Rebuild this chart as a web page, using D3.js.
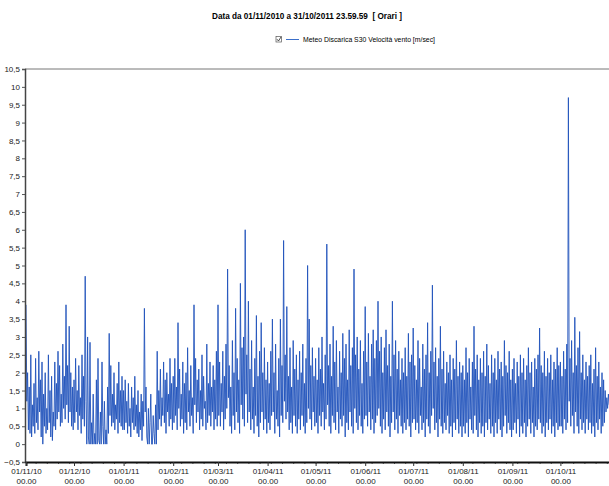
<!DOCTYPE html>
<html lang="it">
<head>
<meta charset="UTF-8">
<title>Velocità vento</title>
<script src="https://d3js.org/d3.v7.min.js"></script>
<style>
  body { margin: 0; background: #fff; }
  svg { display: block; font-family: "Liberation Sans", Arial, sans-serif; }
</style>
</head>
<body>
<svg width="609" height="486"></svg>
<script>
// valori, due campioni al giorno (00.00 e 12.00), m/sec
const nov10 = [3.9,1.2, 2.0,0.4, 1.6,0.3, 2.5,0.2, 1.1,0.5, 1.7,0.3, 2.4,0.6, 1.3,0.4, 2.6,0.9, 1.8,0.2,
  2.3,0.0, 1.4,0.5, 2.0,0.3, 1.0,0.4, 2.5,0.6, 1.5,0.2, 1.9,0.1, 0.9,0.5, 2.3,0.4, 1.7,0.7,
  2.6,0.9, 2.2,0.5, 1.4,0.6, 2.8,1.0, 1.9,0.7, 3.9,1.1, 2.2,0.6, 3.3,0.9, 2.0,0.5, 1.6,0.4];
const dec10 = [1.8,0.6, 2.4,0.9, 1.5,0.4, 2.2,0.8, 1.3,0.3, 2.5,0.7, 1.9,0.5, 4.7,1.2, 0.0,3.0, 0.2,0.0,
  2.85,0.0, 0.6,0.0, 1.4,0.0, 0.3,0.0, 1.8,0.0, 2.4,0.1, 0.0,0.9, 0.0,2.3, 0.5,0.0, 1.2,0.0,
  0.4,0.0, 1.6,0.3, 3.1,0.8, 2.2,0.5, 1.4,0.6, 2.0,0.4, 1.1,0.7, 1.7,0.3, 2.3,0.6, 1.5,0.5, 1.9,0.4];
const jan11 = [1.5,0.4, 1.8,0.6, 1.2,0.3, 1.7,0.5, 1.0,0.2, 1.6,0.6, 1.3,0.4, 1.9,0.5, 1.1,0.3, 1.5,0.2,
  0.9,0.4, 1.4,0.1, 1.2,0.5, 3.8,0.9, 1.6,0.2, 0.0,1.0, 0.0,0.6, 1.4,0.0, 0.0,0.8, 0.3,0.0,
  1.1,0.0, 2.6,0.4, 1.5,0.7, 2.1,0.5, 1.3,0.8, 2.3,0.6, 1.8,0.3, 2.0,0.9, 1.4,0.5, 2.4,0.7, 1.7,0.4];
const feb11 = [1.9,0.6, 2.4,0.8, 1.6,0.4, 3.4,1.0, 2.1,0.5, 1.4,0.7, 2.3,0.3, 1.7,0.6, 2.0,0.4, 2.7,0.9,
  1.5,0.5, 2.2,0.8, 1.3,0.3, 3.9,1.1, 2.4,0.6, 1.8,0.9, 2.1,0.4, 1.5,0.7, 2.5,0.5, 1.9,1.0,
  1.2,0.4, 2.8,0.6, 1.7,0.8, 2.3,0.5, 1.6,0.9, 2.2,0.4, 1.8,0.7, 2.6,0.5];
const mar11 = [3.9,0.8, 2.3,0.5, 1.7,0.9, 2.6,0.4, 1.9,0.7, 2.8,1.0, 4.9,1.3, 2.2,0.5, 1.6,0.3, 2.9,0.8,
  2.0,0.4, 3.8,0.9, 2.4,0.6, 1.8,0.3, 4.5,1.1, 2.7,0.7, 3.0,0.5, 6.0,1.4, 2.5,0.6, 4.0,0.9,
  2.1,0.4, 2.9,0.7, 1.6,0.3, 2.4,0.8, 3.6,0.5, 1.9,0.2, 2.6,0.6, 3.4,0.9, 2.0,0.4, 2.7,0.7, 1.8,0.3];
const apr11 = [2.3,0.6, 1.7,0.4, 2.6,0.8, 3.5,0.9, 2.0,0.3, 2.8,0.7, 1.5,0.5, 2.4,0.2, 3.5,0.8, 2.2,0.6,
  5.7,1.2, 2.5,0.7, 3.85,0.9, 1.9,0.4, 2.7,0.6, 1.6,0.3, 2.9,0.8, 2.1,0.5, 2.5,0.3, 1.8,0.7,
  2.6,0.4, 2.0,0.8, 2.8,0.5, 1.7,0.3, 2.4,0.6, 5.0,1.0, 3.5,0.7, 2.2,0.4, 2.7,0.9, 1.9,0.5];
const may11 = [2.4,0.6, 1.8,0.3, 2.7,0.8, 2.1,0.5, 3.0,0.9, 1.7,0.4, 2.5,0.7, 5.6,1.1, 2.2,0.5, 2.8,0.3,
  1.9,0.8, 3.3,0.6, 2.3,0.4, 2.9,0.9, 1.6,0.3, 2.6,0.7, 2.0,0.5, 3.1,0.8, 2.4,0.2, 2.8,0.6,
  1.8,0.4, 3.2,0.9, 2.2,0.5, 2.7,0.3, 4.9,1.0, 2.5,0.6, 3.0,0.4, 2.1,0.8, 2.9,0.5, 1.7,0.3, 2.6,0.7];
const jun11 = [3.85,0.8, 2.3,0.5, 3.1,0.9, 1.9,0.4, 2.8,0.7, 3.2,0.3, 2.4,0.6, 2.9,0.8, 4.0,1.0, 2.6,0.5,
  3.0,0.3, 2.0,0.7, 2.7,0.4, 3.2,0.9, 2.2,0.5, 2.8,0.2, 1.9,0.6, 4.0,0.9, 2.5,0.4, 2.9,0.7,
  2.1,0.3, 2.6,0.8, 1.8,0.5, 2.4,0.3, 2.0,0.6, 2.7,0.4, 1.9,0.7, 3.1,0.5, 2.3,0.2, 2.5,0.6];
const jul11 = [3.25,0.7, 2.2,0.4, 1.8,0.6, 2.9,0.3, 2.4,0.8, 1.6,0.4, 2.8,0.6, 2.1,0.2, 2.5,0.7, 3.4,0.5,
  2.0,0.3, 2.6,0.8, 4.45,1.0, 2.3,0.4, 2.7,0.6, 1.9,0.2, 2.4,0.7, 3.3,0.5, 2.1,0.3, 2.6,0.6,
  1.7,0.4, 2.3,0.8, 2.0,0.3, 2.5,0.5, 1.8,0.2, 2.4,0.6, 2.1,0.4, 2.9,0.7, 1.9,0.3, 2.3,0.5, 2.0,0.2];
const aug11 = [2.2,0.5, 1.8,0.3, 2.7,0.6, 2.0,0.2, 2.4,0.7, 1.6,0.4, 2.3,0.3, 3.3,0.8, 2.1,0.4, 2.5,0.2,
  1.8,0.6, 2.4,0.3, 2.0,0.5, 2.6,0.2, 1.9,0.6, 2.8,0.4, 2.2,0.7, 1.7,0.3, 2.5,0.5, 2.0,0.2,
  2.4,0.6, 1.8,0.3, 2.6,0.7, 2.1,0.4, 2.3,0.2, 1.9,0.5, 2.9,0.8, 2.2,0.3, 2.0,0.6, 2.6,0.4, 1.8,0.2];
const sep11 = [2.1,0.4, 2.4,0.6, 1.7,0.3, 2.3,0.7, 1.9,0.2, 2.5,0.5, 2.0,0.3, 2.4,0.6, 1.8,0.2, 2.2,0.5,
  2.7,0.7, 2.0,0.3, 2.3,0.6, 1.6,0.2, 2.4,0.5, 2.1,0.4, 2.5,0.7, 3.25,0.6, 2.2,0.3, 2.0,0.5,
  2.6,0.2, 1.9,0.6, 2.4,0.4, 2.0,0.7, 2.5,0.3, 1.8,0.5, 2.3,0.2, 2.1,0.6, 2.7,0.4, 2.2,0.5];
const oct11 = [2.3,0.5, 1.9,0.3, 2.6,0.7, 2.1,0.4, 2.8,0.6, 9.7,1.2, 2.4,0.5, 2.9,0.8, 2.0,0.3, 3.55,0.9,
  2.2,0.5, 2.7,0.3, 3.15,0.7, 2.0,0.4, 2.5,0.6, 1.8,0.3, 2.3,0.7, 1.9,0.4, 2.2,0.6, 2.5,0.3,
  1.7,0.5, 2.1,0.2, 2.7,0.6, 1.9,0.4, 2.3,0.7, 1.6,0.3, 2.0,0.5, 1.8,0.6, 1.5,0.9, 1.3,1.0, 1.4,1.1];

const months = [nov10, dec10, jan11, feb11, mar11, apr11, may11, jun11, jul11, aug11, sep11, oct11];
const yTicks = d3.range(-0.5, 10.51, 0.5);
const titleText = "Data da 01/11/2010 a 31/10/2011 23.59.59\u00a0\u00a0[ Orari ]";
const seriesName = "Meteo Discarica S30 Velocità vento [m/sec]";

const start = new Date(2010, 10, 1);
const end = new Date(2011, 10, 1);

// costruisco la serie: ogni mese parte dal giorno 1, passo di 12 ore
const data = [];
months.forEach((vals, m) => {
  const m0 = d3.timeMonth.offset(start, m);
  vals.forEach((v, i) => data.push({ t: d3.timeHour.offset(m0, i * 12), v: v }));
});

const svg = d3.select("svg");
const pLeft = 25, pRight = 609, pTop = 69, pBottom = 462;

const x = d3.scaleTime().domain([start, end]).range([pLeft + 1, 610]);
const y = d3.scaleLinear().domain([-0.5, 10.5]).range([pBottom, pTop]);

// titolo
svg.append("text")
  .attr("x", 307).attr("y", 19)
  .attr("text-anchor", "middle")
  .attr("font-size", 9.5).attr("font-weight", "bold")
  .attr("textLength", 190).attr("lengthAdjust", "spacingAndGlyphs")
  .text(titleText);

// legenda
const lg = svg.append("g");
lg.append("rect").attr("x", 276).attr("y", 36.5).attr("width", 5.5).attr("height", 5.5)
  .attr("fill", "#fff").attr("stroke", "#555").attr("stroke-width", 0.7);
lg.append("path").attr("d", "M277,39.2 L278.5,41 L281,37").attr("fill", "none")
  .attr("stroke", "#222").attr("stroke-width", 0.8);
lg.append("line").attr("x1", 286).attr("x2", 299).attr("y1", 39.5).attr("y2", 39.5)
  .attr("stroke", "#3b6fc9").attr("stroke-width", 1);
lg.append("text").attr("x", 303).attr("y", 42)
  .attr("font-size", 7)
  .attr("textLength", 132).attr("lengthAdjust", "spacingAndGlyphs")
  .text(seriesName);

// serie
svg.append("clipPath").attr("id", "clip")
  .append("rect").attr("x", pLeft).attr("y", pTop).attr("width", pRight - pLeft).attr("height", pBottom - pTop);

const line = d3.line().x(d => x(d.t)).y(d => y(d.v));
svg.append("path")
  .datum(data)
  .attr("clip-path", "url(#clip)")
  .attr("fill", "none")
  .attr("stroke", "#2153bb")
  .attr("stroke-opacity", 0.9)
  .attr("stroke-width", 1)
  .attr("d", line);

// bordo superiore
svg.append("line").attr("x1", pLeft).attr("x2", pRight).attr("y1", pTop).attr("y2", pTop)
  .attr("stroke", "#777").attr("stroke-width", 1);

// asse y
const yAxis = d3.axisLeft(y).tickValues(yTicks).tickSize(3).tickPadding(2)
  .tickFormat(d => d3.format("~g")(d).replace(".", ","));
const gy = svg.append("g").attr("transform", `translate(${pLeft},0)`).call(yAxis);
gy.select(".domain").attr("stroke", "#444").attr("stroke-width", 1.5);
gy.selectAll(".tick line").attr("stroke", "#555");
gy.selectAll("text").attr("font-size", 8).attr("fill", "#222")
  .attr("font-family", "Liberation Sans, Arial, sans-serif");

// asse x: tacche settimanali + etichette mensili (fino a ottobre)
const monthTicks = d3.timeMonth.range(start, end);
svg.append("g").attr("transform", `translate(0,${pBottom})`)
  .call(d3.axisBottom(x).ticks(d3.timeWeek.every(1)).tickSize(2).tickFormat(""))
  .call(g => g.select(".domain").remove())
  .selectAll(".tick line").attr("stroke", "#666");

const gx = svg.append("g").attr("transform", `translate(0,${pBottom})`)
  .call(d3.axisBottom(x).tickValues(monthTicks).tickSize(4).tickFormat(""));
gx.select(".domain").attr("stroke", "#111").attr("stroke-width", 2);
gx.selectAll(".tick line").attr("stroke", "#333");

const fmt = d3.timeFormat("%d/%m/%y");
gx.selectAll(".tick").each(function (d) {
  const t = d3.select(this).append("text")
    .attr("fill", "#222").attr("font-size", 8).attr("text-anchor", "middle")
    .attr("font-family", "Liberation Sans, Arial, sans-serif");
  t.append("tspan").attr("x", 0).attr("y", 12).text(fmt(d));
  t.append("tspan").attr("x", 0).attr("y", 22).text("00.00");
});
</script>
</body>
</html>
